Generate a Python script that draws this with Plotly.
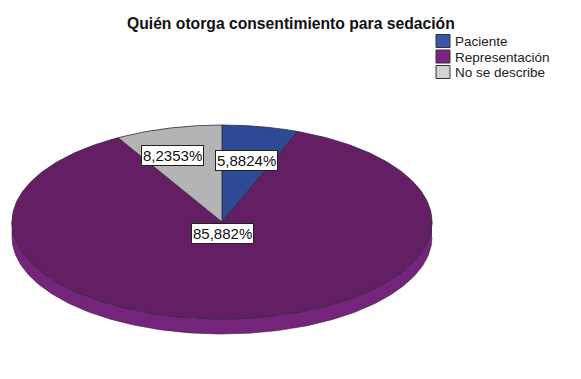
import numpy as np
import plotly.graph_objects as go

# ---- data ----
categories = ["Paciente", "Representación", "No se describe"]
percentages = [5.8824, 85.882, 8.2353]
title_text = "Quién otorga consentimiento para sedación"

# ---- style ----
top_colors = ["#2e4a94", "#641f64", "#b4b4b4"]
side_colors = ["#27407f", "#74247a", "#9a9a9a"]
legend_colors = ["#3a56ab", "#7c2383", "#d2d2d2"]
label_pos = [(246, 160), (222, 233), (172, 155)]
W, H = 581, 379
OFF = 8  # page body margin
cx, cy, rx, ry, depth = 222, 222, 210, 97, 15
FONT = "Liberation Sans, Arial"

def pt(theta, dy=0.0):
    return cx + rx * np.sin(theta), cy - ry * np.cos(theta) + dy

fig = go.Figure()

total = sum(percentages)
bounds = np.concatenate([[0.0], np.cumsum(percentages) / total * 2 * np.pi])

# side wall (visible lower half)
for i in range(len(categories)):
    a0, a1 = max(bounds[i], np.pi / 2), min(bounds[i + 1], 3 * np.pi / 2)
    if a1 <= a0:
        continue
    th = np.linspace(a0, a1, 200)
    x1, y1 = pt(th)
    x2, y2 = pt(th[::-1], depth)
    fig.add_trace(go.Scatter(
        x=np.concatenate([x1, x2]), y=np.concatenate([y1, y2]),
        fill="toself", fillcolor=side_colors[i], mode="lines",
        line=dict(color="#4a1a4e", width=0.6), showlegend=False, hoverinfo="skip"))

# top face slices
for i in range(len(categories)):
    th = np.linspace(bounds[i], bounds[i + 1], 300)
    xs, ys = pt(th)
    fig.add_trace(go.Scatter(
        x=np.concatenate([[cx], xs, [cx]]), y=np.concatenate([[cy], ys, [cy]]),
        fill="toself", fillcolor=top_colors[i], mode="lines",
        line=dict(color="#2a2a3a", width=0.8), showlegend=False,
        name=categories[i], hoverinfo="name"))

# value labels
for i, p in enumerate(percentages):
    txt = f"{p:.5g}".replace(".", ",") + "%"
    fig.add_annotation(x=label_pos[i][0], y=label_pos[i][1], text=txt, showarrow=False,
                       font=dict(family=FONT, size=15, color="#111"),
                       bgcolor="white", bordercolor="#222", borderwidth=1, borderpad=1)

# title
fig.add_annotation(x=291, y=23, text=f"<b>{title_text}</b>", showarrow=False,
                   font=dict(family=FONT, size=15.7, color="#111"))

# legend
for i, c in enumerate(categories):
    yc = 41.5 + 15.5 * i
    fig.add_shape(type="rect", x0=436, x1=450, y0=yc - 7, y1=yc + 6,
                  fillcolor=legend_colors[i], line=dict(color="#333", width=1), xref="x", yref="y")
    fig.add_annotation(x=453, y=yc, text=c, showarrow=False, xanchor="left",
                       font=dict(family=FONT, size=13.5, color="#222"))

fig.update_layout(
    width=W, height=H, margin=dict(l=0, r=0, t=0, b=0),
    paper_bgcolor="white", plot_bgcolor="white",
    xaxis=dict(range=[OFF, W + OFF], visible=False, fixedrange=True),
    yaxis=dict(range=[H + OFF, OFF], visible=False, fixedrange=True),
    showlegend=False,
)
fig.write_html("out.html")
